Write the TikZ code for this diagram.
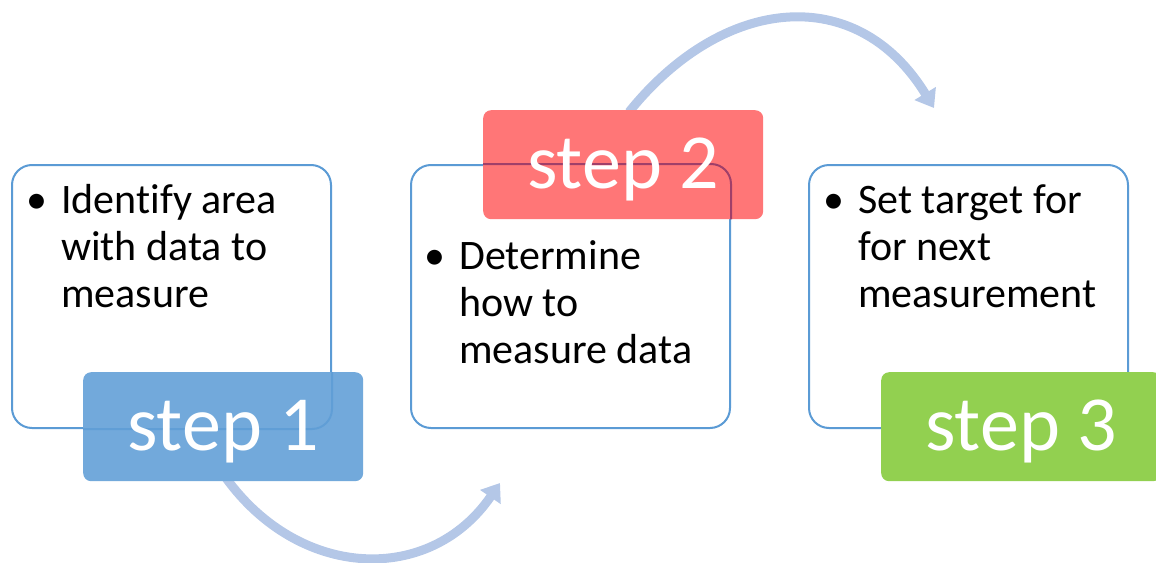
\documentclass[tikz,border=0pt]{standalone}
\usepackage{fontspec}
\setmainfont{Carlito}[Ligatures=NoCommon]
\usetikzlibrary{arrows.meta}
\definecolor{boxline}{HTML}{5B9BD5}
\definecolor{lblblue}{HTML}{72A9DB}
\definecolor{lblred}{HTML}{FF7677}
\definecolor{lblgreen}{HTML}{92D050}
\definecolor{arrowc}{HTML}{B4C7E7}
\definecolor{lineonred}{HTML}{782864}
\begin{document}
\begin{tikzpicture}[x=1pt,y=-1pt,
  stepbox/.style={draw=boxline, line width=2pt, rounded corners=20pt, fill=white,
    minimum width=319pt, minimum height=263pt, inner sep=0pt, anchor=north west},
  steplabel/.style={rounded corners=8pt,
    minimum width=280pt, minimum height=109pt, anchor=north west, inner sep=0pt},
  labeltext/.style={font=\fontsize{78}{80}\selectfont, text=white, anchor=base, inner sep=0pt},
  bodytext/.style={font=\fontsize{42}{47}\selectfont, anchor=base west, inner sep=0pt},
  flow/.style={draw=arrowc, line width=9pt, -{Triangle[width=24pt,length=17pt]}}]
\useasboundingbox (0,0) rectangle (1156,562);
\clip (0,0) rectangle (1156,562);
% arrows
\coordinate (a1s) at (226,478);
\coordinate (a1e) at (500,483);
\coordinate (a2s) at (629,112);
\coordinate (a2e) at (934,108);
\draw[flow] (a1s) .. controls (300,580) and (430,585) .. (a1e);
\draw[flow] (a2s) .. controls (723,-5) and (857,-18) .. (a2e);
% boxes
\node[stepbox] (b1) at (11,164) {};
\node[stepbox] (b2) at (410,164) {};
\node[stepbox] (b3) at (808,164) {};
% body text
\node[bodytext] (t1) at (26,213) {\begin{tabular}[t]{@{}l@{}l@{}}\makebox[35pt][l]{•}&Identify area\\&with data to\\&measure\end{tabular}};
\node[bodytext] (t2) at (424,269) {\begin{tabular}[t]{@{}l@{}l@{}}\makebox[35pt][l]{•}&Determine\\&how to\\&measure data\end{tabular}};
\node[bodytext] (t3) at (823,213) {\begin{tabular}[t]{@{}l@{}l@{}}\makebox[35pt][l]{•}&Set target for\\&for next\\&measurement\end{tabular}};
% labels
\node[steplabel, fill=lblblue] (l1) at (83,372) {};
\node[steplabel, fill=lblred] (l2) at (483,110) {};
\node[steplabel, fill=lblgreen] (l3) at (881,372) {};
% box outlines showing through the labels
\begin{scope}
  \path[clip, rounded corners=8pt] (l1.north west) rectangle (l1.south east);
  \draw[boxline, line width=2pt, rounded corners=20pt, draw opacity=0.75] (b1.north west) rectangle (b1.south east);
\end{scope}
\begin{scope}
  \path[clip, rounded corners=8pt] (l2.north west) rectangle (l2.south east);
  \draw[lineonred, line width=2pt, rounded corners=20pt, draw opacity=0.7] (b2.north west) rectangle (b2.south east);
\end{scope}
\node[labeltext] (s1) at ([yshift=-78pt]l1.north) {step 1};
\node[labeltext] (s2) at ([yshift=-78pt]l2.north) {step 2};
\node[labeltext] (s3) at ([yshift=-78pt]l3.north) {step 3};
\end{tikzpicture}
\end{document}
